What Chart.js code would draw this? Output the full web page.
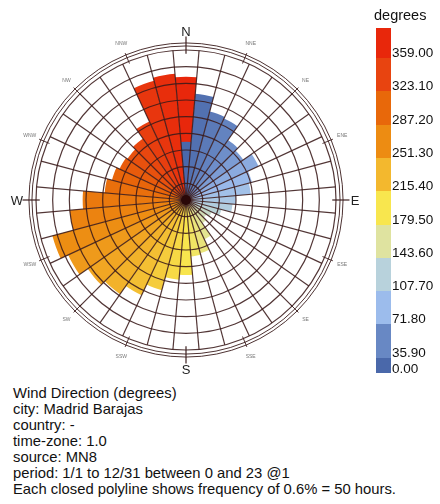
<!DOCTYPE html>
<html>
<head>
<meta charset="utf-8">
<script src="https://cdn.jsdelivr.net/npm/chart.js@4/dist/chart.umd.min.js"></script>
<style>
  html, body { margin: 0; padding: 0; background: #fff; }
  #wrap { position: relative; width: 440px; height: 504px; overflow: hidden;
          font-family: "Liberation Sans", Arial, sans-serif; color: #111; }
  #chartBox { position: absolute; left: 0; top: 0; width: 440px; height: 380px; }
  #legendTitle { position: absolute; left: 374px; top: 7px; font-size: 14.5px; line-height: 16px; }
  .swatch { position: absolute; left: 376px; width: 15px; }
  .lbl { position: absolute; left: 392px; font-size: 13.5px; line-height: 16px; white-space: nowrap; }
  #caption { position: absolute; left: 13px; top: 385px; font-size: 14.8px; line-height: 16px; white-space: nowrap; }
</style>
</head>
<body>
<div id="wrap">
  <div id="chartBox"><canvas id="rose"></canvas></div>
  <div id="legendTitle">degrees</div>
  <div id="legend"></div>
  <div id="caption"></div>
</div>
<script>
// Wind direction sectors (degrees, 10° bins centred on each direction)
const sectorDeg = [0, 10, 20, 30, 40, 50, 60, 70, 80, 90, 100, 110, 120, 130, 140, 150, 160, 170,
                   180, 190, 200, 210, 220, 230, 240, 250, 260, 270, 280, 290, 300, 310, 320, 330, 340, 350];

// Frequency of each sector in percent of hours (the 0° slot holds the 360° bin)
const freqPct = [4.44, 3.84, 3.30, 3.24, 2.64, 2.52, 2.88, 2.46, 2.34, 1.80, 1.68, 1.32, 1.02, 0.90, 1.02, 1.56, 1.98, 2.04,
                 2.70, 2.88, 3.36, 3.78, 4.14, 4.32, 4.68, 4.98, 4.20, 3.72, 2.94, 2.76, 2.64, 2.58, 2.70, 3.12, 4.44, 4.56];

// The 0° bin, drawn on top of the 360° bin in the north sector
const northZeroPct = 2.10;

// Ring spacing and outer ring of the radial scale (percent)
const ringStepPct = 0.6;
const ringMaxPct = 5.4;

// Colour scale ticks (degrees) and their colours, top to bottom
const legendValues = [359.0, 323.1, 287.2, 251.3, 215.4, 179.5, 143.6, 107.7, 71.8, 35.9, 0.0];
const legendColors = ['#e8270b', '#e84410', '#e8680a', '#ed8c12', '#f3b82e', '#f8e64e',
                      '#dfe3a0', '#b8d2dc', '#9cbcec', '#6888c4', '#4a68aa'];

const compassNames = ['N', 'NNE', 'NE', 'ENE', 'E', 'ESE', 'SE', 'SSE',
                      'S', 'SSW', 'SW', 'WSW', 'W', 'WNW', 'NW', 'NNW'];

const captionLines = [
  'Wind Direction (degrees)',
  'city: Madrid Barajas',
  'country: -',
  'time-zone: 1.0',
  'source: MN8',
  'period: 1/1 to 12/31 between 0 and 23 @1',
  'Each closed polyline shows frequency of 0.6% = 50 hours.'
];

// ---- colour scale ----
function hexToRgb(h) {
  const n = parseInt(h.slice(1), 16);
  return [(n >> 16) & 255, (n >> 8) & 255, n & 255];
}
function colorFor(deg) {
  const vals = legendValues.slice().reverse();
  const cols = legendColors.slice().reverse().map(hexToRgb);
  if (deg <= vals[0]) return 'rgb(' + cols[0].join(',') + ')';
  for (let i = 1; i < vals.length; i++) {
    if (deg <= vals[i]) {
      const t = (deg - vals[i - 1]) / (vals[i] - vals[i - 1]);
      const c = cols[i - 1].map((v, k) => Math.round(v + (cols[i][k] - v) * t));
      return 'rgb(' + c.join(',') + ')';
    }
  }
  return 'rgb(' + cols[cols.length - 1].join(',') + ')';
}

// ---- legend (colour bar) ----
(function buildLegend() {
  const box = document.getElementById('legend');
  const top = 28, first = 30, step = 33.3, last = 15;
  let y = top;
  legendValues.forEach((v, i) => {
    const h = i === 0 ? first : (i === legendValues.length - 1 ? last : step);
    const sw = document.createElement('div');
    sw.className = 'swatch';
    sw.style.top = y + 'px';
    sw.style.height = (h + 0.5) + 'px';
    sw.style.background = legendColors[i];
    box.appendChild(sw);
    const lb = document.createElement('div');
    lb.className = 'lbl';
    lb.textContent = v.toFixed(2);
    const cy = i === legendValues.length - 1 ? 369 : 53 + step * i;
    lb.style.top = (cy - 8) + 'px';
    box.appendChild(lb);
    y += h;
  });
})();

document.getElementById('caption').innerHTML =
  captionLines.map(s => '<div>' + s.replace(/&/g, '&amp;').replace(/</g, '&lt;') + '</div>').join('');

// ---- outer compass ring, direction ticks and names ----
const compassRing = {
  id: 'compassRing',
  afterDraw(chart) {
    const s = chart.scales.r;
    const ctx = chart.ctx;
    const cx = s.xCenter, cy = s.yCenter, R = s.drawingArea;
    ctx.save();
    ctx.strokeStyle = 'rgba(58,28,28,0.9)';
    ctx.lineWidth = 1;
    [R * 1.027, R * 1.047].forEach(r => {
      ctx.beginPath(); ctx.arc(cx, cy, r, 0, Math.PI * 2); ctx.stroke();
    });
    compassNames.forEach((name, i) => {
      const a = i * 22.5 * Math.PI / 180;
      const major = i % 4 === 0;
      const sx = Math.sin(a), sy = -Math.cos(a);
      const r0 = major ? R * 0.975 : R * 0.985;
      const r1 = major ? R * 1.09 : R * 1.06;
      ctx.lineWidth = major ? 1.3 : 1;
      ctx.beginPath();
      ctx.moveTo(cx + r0 * sx, cy + r0 * sy);
      ctx.lineTo(cx + r1 * sx, cy + r1 * sy);
      ctx.stroke();
      const rl = R * 1.127;
      ctx.font = major ? '13px "Liberation Sans", Arial, sans-serif' : '5px "Liberation Sans", Arial, sans-serif';
      ctx.fillStyle = major ? '#222' : '#777';
      ctx.textAlign = 'center';
      ctx.textBaseline = 'middle';
      ctx.fillText(name, cx + rl * sx, cy + rl * sy + (major ? 1 : 0));
    });
    ctx.fillStyle = '#2a0808';
    ctx.beginPath(); ctx.arc(cx, cy, 5, 0, Math.PI * 2); ctx.fill();
    ctx.restore();
  }
};

const zeroRow = sectorDeg.map((d, i) => (i === 0 ? northZeroPct : 0));

new Chart(document.getElementById('rose'), {
  type: 'polarArea',
  data: {
    labels: sectorDeg.map(d => d + '°'),
    datasets: [
      {
        label: '0°',
        data: zeroRow,
        backgroundColor: sectorDeg.map(() => colorFor(0)),
        borderWidth: 0
      },
      {
        label: 'Wind direction',
        data: freqPct,
        backgroundColor: sectorDeg.map(d => colorFor(d === 0 ? 360 : d)),
        borderWidth: 0
      }
    ]
  },
  options: {
    responsive: true,
    maintainAspectRatio: false,
    animation: false,
    events: [],
    layout: { padding: { left: 36, right: 104, top: 50, bottom: 30 } },
    plugins: { legend: { display: false }, tooltip: { enabled: false } },
    scales: {
      r: {
        min: 0,
        max: ringMaxPct,
        startAngle: -5,
        ticks: { display: false, stepSize: ringStepPct },
        grid: { display: true, circular: true, color: 'rgba(58,26,26,0.88)', lineWidth: 1.2, z: 1 },
        angleLines: { display: true, color: 'rgba(58,26,26,0.88)', lineWidth: 1.2 },
        pointLabels: { display: false }
      }
    }
  },
  plugins: [compassRing]
});
</script>
</body>
</html>
